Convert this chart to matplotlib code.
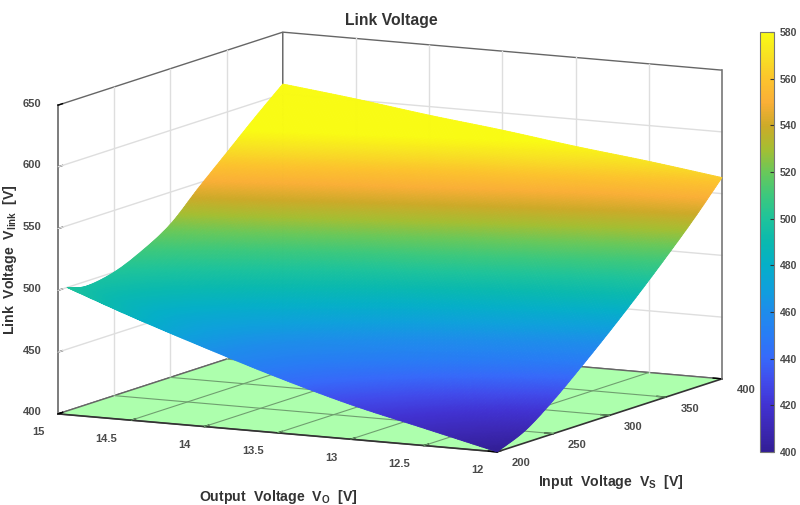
import numpy as np
import matplotlib
matplotlib.use('Agg')
import matplotlib.pyplot as plt
from matplotlib.colors import LinearSegmentedColormap, Normalize

plt.rcParams['font.family'] = ['Liberation Sans', 'DejaVu Sans']
plt.rcParams['mathtext.fontset'] = 'custom'
plt.rcParams['mathtext.bf'] = 'Liberation Sans:bold'

# values
vo = [12, 12.5, 13, 13.5, 14, 14.5, 15]
vs = [200, 225, 250, 275, 300, 325, 350, 375, 400]
vlink = [
    [400, 410, 427, 447, 468, 490, 513, 537, 563],
    [414, 423, 439, 457, 477, 499, 522, 545, 571],
    [428, 438, 451, 467, 486, 508, 531, 554, 578],
    [445, 452, 463, 478, 495, 518, 540, 562, 586],
    [464, 467, 475, 489, 505, 527, 549, 571, 593],
    [484, 481, 487, 499, 515, 537, 558, 579, 601],
    [500, 496, 500, 510, 524, 546, 567, 588, 608],
]
# the surface stops a little short of the corner at Vo=15
vs_start_15 = 208

vo_ticks = [12, 12.5, 13, 13.5, 14, 14.5, 15]
vo_labels = ['12', '12.5', '13', '13.5', '14', '14.5', '15']
vs_ticks = [200, 250, 300, 350, 400]
z_ticks = [400, 450, 500, 550, 600, 650]
cbar_ticks = list(range(400, 581, 20))

cmap_vals = [400, 410, 420, 430, 440, 450, 460, 470, 480, 490, 500, 510, 520, 530, 540, 550, 560, 570, 580]
cmap_rgb = [(50, 30, 150), (60, 40, 180), (65, 50, 210), (65, 75, 235), (55, 105, 250), (40, 125, 245),
            (30, 140, 235), (15, 160, 220), (5, 175, 200), (10, 185, 175), (30, 195, 155), (60, 200, 125),
            (105, 200, 90), (165, 190, 50), (205, 170, 40), (250, 175, 55), (252, 195, 45), (248, 225, 35),
            (249, 251, 20)]

GREY = '#4a4a4a'
W, H = 800, 505


def curve(a, n):
    # Catmull-Rom through the read values along the first axis
    a = np.asarray(a, dtype=float)
    p = np.vstack([2 * a[0] - a[1], a, 2 * a[-1] - a[-2]])
    u = np.linspace(0, len(a) - 1, n)
    k = np.minimum(u.astype(int), len(a) - 2)
    t = (u - k)[:, None]
    return 0.5 * (2 * p[k + 1] + (p[k + 2] - p[k]) * t + (2 * p[k] - 5 * p[k + 1] + 4 * p[k + 2] - p[k + 3]) * t ** 2
                  + (3 * p[k + 1] - p[k] - 3 * p[k + 2] + p[k + 3]) * t ** 3)


def refine(a, n=200):
    # finer facets inside each table cell, only to get smooth shading like MATLAB's shading interp
    return curve(curve(a, n).T, n).T


Y, X = np.meshgrid(vs, vo)
Y, X = Y.astype(float), X.astype(float)
Y[-1, 0] = vs_start_15

cmap = LinearSegmentedColormap.from_list('link', [((v - 400) / 180, tuple(c / 255 for c in rgb))
                                                  for v, rgb in zip(cmap_vals, cmap_rgb)], N=256)
norm = Normalize(400, 580)

fig = plt.figure(figsize=(W / 100, H / 100), dpi=100)
S = 480
cx, cy = 383.5, 248.5
ax = fig.add_axes([(cx - S / 2) / W, (H - cy - S / 2) / H, S / W, S / H], projection='3d',
                  proj_type='ortho', computed_zorder=False)
ax.view_init(elev=9.65, azim=-62.7)
ax.set_box_aspect((494, 490, 313), zoom=0.975 * 760 / S)
ax.patch.set_alpha(0)

ax.grid(False)
ax.xaxis.set_pane_color('white')
ax.yaxis.set_pane_color('white')
ax.zaxis.set_pane_color('#adffad')
for a in (ax.xaxis, ax.yaxis, ax.zaxis):
    a.pane.set_edgecolor('#666666')
    a.pane.set_linewidth(1.0)
    a.line.set_color('#333333')
    a.line.set_linewidth(1.2)
    a._axinfo['tick']['inward_factor'] = 0.0
    a._axinfo['tick']['outward_factor'] = 0.25
    a._axinfo['tick']['linewidth'] = {True: 1.0, False: 0.5}
    a._axinfo['tick']['color'] = '#404040'
ax.zaxis.line.set_color('#666666')

# walls get light lines, the floor darker ones
wall = dict(color='#dedede', lw=1.0, zorder=1, clip_on=False)
floor = dict(color='#6f9f6f', lw=0.8, zorder=1, clip_on=False)
for v in vo_ticks[1:-1]:
    ax.plot([v, v], [400, 400], [400, 650], **wall)
    ax.plot([v, v], [200, 400], [400, 400], **floor)
for v in vs_ticks[1:-1]:
    ax.plot([15, 15], [v, v], [400, 650], **wall)
    ax.plot([15, 12], [v, v], [400, 400], **floor)
for v in z_ticks[1:-1]:
    ax.plot([15, 15], [200, 400], [v, v], **wall)
    ax.plot([15, 12], [400, 400], [v, v], **wall)
ax.plot([12, 12], [400, 400], [400, 650], color='#777777', lw=1.2, zorder=2, clip_on=False)

surf = ax.plot_surface(refine(X), refine(Y), refine(vlink), cmap=cmap, norm=norm, rstride=1, cstride=1,
                       linewidth=0.6, antialiased=True, shade=False, zorder=5)
surf.set_edgecolor('face')
surf.set_clip_on(False)

ax.set_xlim(15, 12)
ax.set_ylim(200, 400)
ax.set_zlim(400, 650)

ax.zaxis.set_ticks_position('lower')
ax.set_xticks(vo_ticks, vo_labels, ha='right', va='bottom', fontweight='bold')
ax.set_yticks(vs_ticks, [str(v) for v in vs_ticks], ha='left', va='center', fontweight='bold')
ax.set_zticks(z_ticks, [str(v) for v in z_ticks], va='baseline', fontweight='bold')
ax.tick_params(axis='x', labelsize=8, labelcolor=GREY, pad=3)
ax.tick_params(axis='y', labelsize=8, labelcolor=GREY, pad=-2)
ax.tick_params(axis='z', labelsize=8, labelcolor=GREY, pad=-1)

cax = fig.add_axes([760 / W, (H - 452) / H, 14 / W, 420 / H])
cb = fig.colorbar(surf, cax=cax, ticks=cbar_ticks)
cb.ax.tick_params(direction='in', length=3, width=0.8, color='#333333', labelsize=7.5, labelcolor=GREY, pad=4)
for lab in cb.ax.get_yticklabels():
    lab.set_fontweight('bold')
cb.outline.set_edgecolor('#777777')
cb.outline.set_linewidth(0.8)

fig.text(391 / W, 1 - 21 / H, 'Link Voltage', ha='center', va='center', fontsize=11.3, fontweight='bold', color='#333333')
lab = dict(ha='center', va='center', fontsize=10.2, fontweight='bold', color='#333333')
fig.text(278 / W, 1 - 497 / H, r'Output  Voltage  V$_{\mathbf{O}}$  [V]', **lab)
fig.text(611 / W, 1 - 482 / H, r'Input  Voltage  V$_{\mathbf{S}}$  [V]', **lab)
fig.text(10 / W, 1 - 260 / H, r'Link  Voltage  V$_{\mathbf{link}}$  [V]', rotation=90, **lab)

fig.savefig('out.png', dpi=100)
